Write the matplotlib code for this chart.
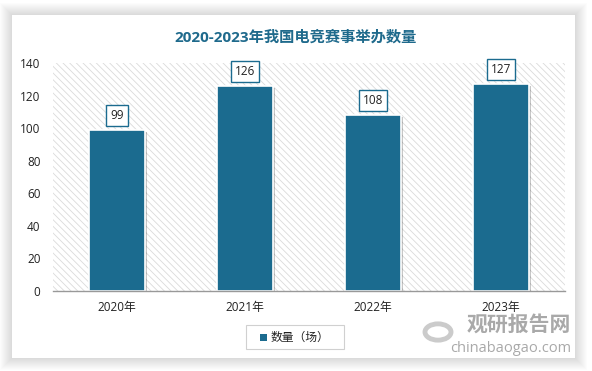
import matplotlib
matplotlib.use("Agg")
import matplotlib.pyplot as plt
from matplotlib.patches import Rectangle, Circle
import matplotlib.patheffects as pe

plt.rcParams['font.family'] = ['Open Sans', 'Noto Sans CJK SC', 'DejaVu Sans']
plt.rcParams['hatch.linewidth'] = 0.6
plt.rcParams['hatch.color'] = '#dadada'

categories = ['2020年', '2021年', '2022年', '2023年']
values = [99, 126, 108, 127]
y_ticks = [0, 20, 40, 60, 80, 100, 120, 140]
title = '2020-2023年我国电竞赛事举办数量'
legend_label = '数量（场）'

W, H = 592, 371
fig = plt.figure(figsize=(W / 100, H / 100), dpi=100)
fig.patch.set_facecolor('white')

# card with soft shadow
cx0, cy0, cx1, cy1 = 12, 15, 575, 358
for i in range(12):
    g = 12 - i
    fig.patches.append(Rectangle(((cx0 - g) / W, 1 - (cy1 + g) / H), (cx1 - cx0 + 2 * g) / W,
                                 (cy1 - cy0 + 2 * g) / H, transform=fig.transFigure,
                                 facecolor='black', alpha=0.011, edgecolor='none', zorder=0))
fig.patches.append(Rectangle((cx0 / W, 1 - cy1 / H), (cx1 - cx0) / W, (cy1 - cy0) / H,
                             transform=fig.transFigure, facecolor='white', edgecolor='none', zorder=0.5))

color = '#1b6b8f'
ax = fig.add_axes([53 / W, 1 - 291 / H, (565 - 53) / W, (291 - 63) / H])
ax.set_zorder(5)
ax.patch.set_alpha(0)
ax.add_patch(Rectangle((0, 0), 1, 1, transform=ax.transAxes, facecolor='white',
                       hatch='\\\\\\\\\\', edgecolor='#dadada', linewidth=0, zorder=0))

x = range(len(categories))
bars = ax.bar(x, values, width=0.43, color=color, edgecolor='white', linewidth=1.2, zorder=3)
for b in bars:
    b.set_path_effects([pe.SimplePatchShadow(offset=(1.5, -1.5), shadow_rgbFace='black', alpha=0.22),
                        pe.Normal()])

for xi, v in zip(x, values):
    ax.annotate(str(v), (xi, v), xytext=(0, 10.5), textcoords='offset points',
                ha='center', va='center', fontsize=8.5, color='#222222', zorder=5,
                bbox=dict(boxstyle='square,pad=0.35', facecolor='white', edgecolor=color, linewidth=1.0))

ax.set_xlim(-0.5, 3.5)
ax.set_ylim(0, 140)
ax.set_yticks(y_ticks)
ax.set_xticks(list(x))
ax.set_xticklabels(categories, family=['Open Sans', 'Noto Sans CJK SC'])
ax.tick_params(axis='both', length=0, labelsize=8.5, colors='#222222')
ax.tick_params(axis='x', pad=7)
ax.tick_params(axis='y', pad=9)
for s in ['top', 'right', 'left']:
    ax.spines[s].set_visible(False)
ax.spines['bottom'].set_color('#999999')
ax.spines['bottom'].set_linewidth(1.0)
ax.spines['bottom'].set_zorder(4)

# title
fig.text(0.5, 1 - 37 / H, title, ha='center', va='center', fontsize=11, fontweight='bold',
         color='#1f6a8c', family=['Open Sans', 'Noto Sans CJK SC'], zorder=6)

# legend
fig.patches.append(Rectangle((246 / W, 1 - 349 / H), (344 - 246) / W, (349 - 325) / H,
                             transform=fig.transFigure, facecolor='white', edgecolor='#d0d0d0',
                             linewidth=0.8, zorder=2))
fig.patches.append(Rectangle((260 / W, 1 - 341 / H), 7 / W, 7 / H, transform=fig.transFigure,
                             facecolor=color, edgecolor='none', zorder=3))
fig.text(271 / W, 1 - 337 / H, legend_label, ha='left', va='center', fontsize=8.5,
         color='#222222', family=['Noto Sans CJK SC'], zorder=3)

# watermark
fig.text(571 / W, 1 - 324 / H, '观研报告网', ha='right', va='center', fontsize=15, fontweight='bold',
         color='#9a9a9a', family=['Noto Sans CJK SC'], alpha=0.85, zorder=7)
fig.text(571 / W, 1 - 348 / H, 'chinabaogao.com', ha='right', va='center', fontsize=10.5,
         color='#9a9a9a', family=['Open Sans'], alpha=0.85, zorder=7)
fig.patches.append(Circle((438 / W, 1 - 332 / H), 13 / W, transform=fig.transFigure,
                          facecolor='none', edgecolor='#b5b5b5', linewidth=3.5, alpha=0.7, zorder=7))

fig.savefig('out.png', dpi=100)
